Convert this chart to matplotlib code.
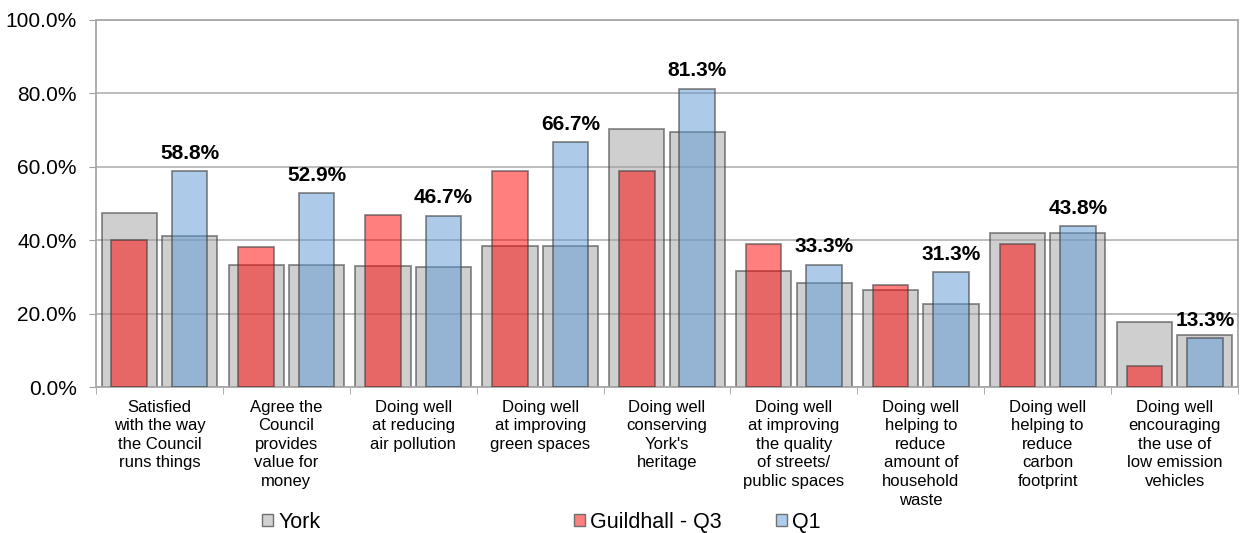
import numpy as np
import matplotlib
matplotlib.use("Agg")
import matplotlib.pyplot as plt
from matplotlib.patches import Patch
from matplotlib.ticker import FuncFormatter, FixedLocator, NullFormatter

plt.rcParams["font.family"] = ["Liberation Sans", "DejaVu Sans"]

# --- data -----------------------------------------------------------------
categories = [
    "Satisfied\nwith the way\nthe Council\nruns things",
    "Agree the\nCouncil\nprovides\nvalue for\nmoney",
    "Doing well\nat reducing\nair pollution",
    "Doing well\nat improving\ngreen spaces",
    "Doing well\nconserving\nYork's\nheritage",
    "Doing well\nat improving\nthe quality\nof streets/\npublic spaces",
    "Doing well\nhelping to\nreduce\namount of\nhousehold\nwaste",
    "Doing well\nhelping to\nreduce\ncarbon\nfootprint",
    "Doing well\nencouraging\nthe use of\nlow emission\nvehicles",
]
york_q3 = [47.3, 33.3, 33.0, 38.3, 70.2, 31.6, 26.3, 42.0, 17.7]
guildhall_q3 = [40.0, 38.1, 47.0, 58.8, 58.8, 38.9, 27.8, 38.9, 5.6]
york_q1 = [41.1, 33.3, 32.7, 38.3, 69.5, 28.3, 22.7, 42.0, 14.3]
q1 = [58.8, 52.9, 46.7, 66.7, 81.3, 33.3, 31.3, 43.8, 13.3]

# --- styles ---------------------------------------------------------------
GREY = (0.63, 0.63, 0.63, 0.5)
RED = (1.0, 0.0, 0.0, 0.5)
BLUE = (0.365, 0.6, 0.835, 0.5)
EDGE = (0.25, 0.25, 0.25, 0.6)

fig = plt.figure(figsize=(12.42, 5.33), dpi=100)
ax = fig.add_axes([0.0773, 0.2739, 0.9195, 0.6886])

x = np.arange(len(categories))
off = 0.238
w_back = 0.435
w_front = 0.28

ax.bar(x - off, york_q3, w_back, color=GREY, edgecolor=EDGE, linewidth=1.3, zorder=2)
ax.bar(x + off, york_q1, w_back, color=GREY, edgecolor=EDGE, linewidth=1.3, zorder=2)
ax.bar(x - off, guildhall_q3, w_front, color=RED, edgecolor=EDGE, linewidth=1.3, zorder=3)
bars_q1 = ax.bar(x + off, q1, w_front, color=BLUE, edgecolor=EDGE, linewidth=1.3, zorder=3)

for b, v in zip(bars_q1, q1):
    ax.annotate(f"{v:.1f}%", (b.get_x() + b.get_width() / 2, v),
                xytext=(0, 6), textcoords="offset points",
                ha="center", va="bottom", fontsize=15, fontweight="bold")

ax.set_xlim(-0.5, len(categories) - 0.5)
ax.set_ylim(0, 100)
ax.set_yticks(np.arange(0, 101, 20))
ax.yaxis.set_major_formatter(FuncFormatter(lambda v, p: f"{v:.1f}%"))
ax.yaxis.grid(True, color="#bdbdbd", linewidth=1.4, zorder=0)
ax.set_axisbelow(True)
ax.tick_params(axis="y", labelsize=15, length=5, color="#a0a0a0", pad=9)

# category ticks sit on the boundaries, labels at the centres
ax.xaxis.set_major_locator(FixedLocator(x))
ax.set_xticklabels(categories, fontsize=12, linespacing=1.3)
ax.xaxis.set_minor_locator(FixedLocator(np.arange(-0.5, len(categories), 1)))
ax.xaxis.set_minor_formatter(NullFormatter())
ax.tick_params(axis="x", which="major", length=0, pad=9)
ax.tick_params(axis="x", which="minor", length=5, color="#a0a0a0")

for s in ax.spines.values():
    s.set_color("#a8a8a8")
    s.set_linewidth(1.3)

# legend, spread along the bottom
legend_items = [
    ("York", (0.82, 0.82, 0.82), 0.211),
    ("Guildhall - Q3", (1.0, 0.5, 0.5), 0.462),
    ("Q1", (0.68, 0.8, 0.92), 0.625),
]
for label, col, xpos in legend_items:
    h = Patch(facecolor=col, edgecolor="#707070", linewidth=1.0)
    fig.legend([h], [label], loc="center left", bbox_to_anchor=(xpos, 0.02),
               frameon=False, fontsize=15.5, handlelength=0.5, handleheight=0.5,
               handletextpad=0.25, borderpad=0, borderaxespad=0)

fig.savefig("out.png", dpi=100)
